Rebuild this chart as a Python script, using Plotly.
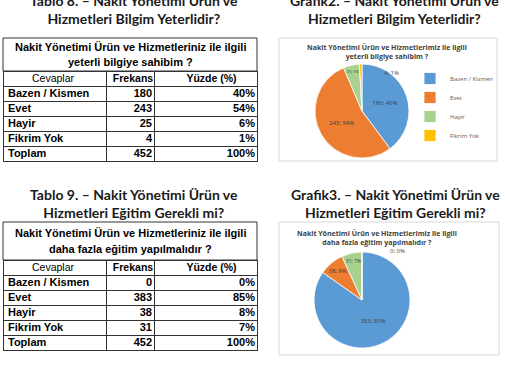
import plotly.graph_objects as go

W, H = 505, 369

# ---- data ----
cevaplar = ["Bazen / Kismen", "Evet", "Hayir", "Fikrim Yok", "Toplam"]
frekans8 = [180, 243, 25, 4, 452]
yuzde8 = ["40%", "54%", "6%", "1%", "100%"]
frekans9 = [0, 383, 38, 31, 452]
yuzde9 = ["0%", "85%", "8%", "7%", "100%"]

col_headers = ["Cevaplar", "Frekans", "Yüzde (%)"]
table8_title = ["Nakit Yönetimi Ürün ve Hizmetleriniz ile ilgili", "yeterli bilgiye sahibim ?"]
table9_title = ["Nakit Yönetimi Ürün ve Hizmetleriniz ile ilgili", "daha fazla eğitim yapılmalıdır ?"]

pie1_labels = ["Bazen / Kismen", "Evet", "Hayir", "Fikrim Yok"]
pie1_values = [180, 243, 25, 4]
pie1_pct = [40, 54, 5, 1]
pie2_labels = ["Evet", "Hayir", "Fikrim Yok", "Bazen / Kismen"]
pie2_values = [383, 38, 31, 0]
pie2_pct = [85, 8, 7, 0]

block_titles = [
    "Tablo 8. – Nakit Yönetimi Ürün ve<br>Hizmetleri Bilgim Yeterlidir?",
    "Grafik2. – Nakit Yönetimi Ürün ve<br>Hizmetleri Bilgim Yeterlidir?",
    "Tablo 9. – Nakit Yönetimi Ürün ve<br>Hizmetleri Eğitim Gerekli mi?",
    "Grafik3. – Nakit Yönetimi Ürün ve<br>Hizmetleri Eğitim Gerekli mi?",
]
chart1_title = "Nakit Yönetimi Ürün ve Hizmetlerimiz ile ilgili<br>yeterli bilgiye sahibim ?"
chart2_title = "Nakit Yönetimi Ürün ve Hizmetlerimiz ile ilgili<br>daha fazla eğitim yapılmalıdır ?"

slice_colors = ["#5B9BD5", "#ED7D31", "#A9D18E", "#FFC000"]

TFONT = "Liberation Sans, Arial, sans-serif"
HFONT = "Lato, sans-serif"
CFONT = "Open Sans, Lato, sans-serif"
LINE = "#333333"


def px(x0, x1):
    return [x0 / W, x1 / W]


def py(top, bottom):
    return [max(0, 1 - bottom / H), min(1, 1 - top / H)]


def lbl(v, p):
    return f"{v}; {p}%"


fig = go.Figure()


def ann(text, x, y, size, color, family, bold=True):
    fig.add_annotation(text=("<b>" + text + "</b>") if bold else text,
                       x=x / W, y=1 - y / H, xref="paper", yref="paper",
                       xanchor="center", yanchor="middle", showarrow=False,
                       align="center",
                       font=dict(family=family, size=size, color=color))


def add_table(title, freq, pct, top, body_top):
    # merged title cell
    fig.add_shape(type="rect", xref="paper", yref="paper",
                  x0=3 / W, x1=257 / W, y0=1 - body_top / H, y1=1 - top / H,
                  line=dict(color=LINE, width=1), fillcolor="white", layer="below")
    mid = (top + body_top) / 2
    ann(title[0], 130, mid - 7.5, 11, "black", TFONT)
    ann(title[1], 130, mid + 7.5, 11, "black", TFONT)
    n = len(cevaplar)
    # grid (cell borders)
    fig.add_trace(go.Table(
        domain=dict(x=px(3, 257), y=py(body_top, body_top + 100)),
        columnwidth=[103, 48, 103],
        header=dict(values=["", "", ""], height=15,
                    line=dict(color=LINE, width=1), fill=dict(color="white")),
        cells=dict(values=[[""] * n, [""] * n, [""] * n], height=15,
                   line=dict(color=LINE, width=1), fill=dict(color="white")),
        hoverinfo="skip",
    ))
    # text layer (shifted so the text sits centred in each 15px row)
    fig.add_trace(go.Table(
        domain=dict(x=px(0, 263), y=py(body_top - 5, body_top + 100)),
        columnwidth=[106, 54, 103],
        header=dict(values=col_headers, height=15, align="center",
                    line=dict(color="rgba(0,0,0,0)", width=0), fill=dict(color="rgba(0,0,0,0)"),
                    font=dict(family=TFONT, size=10.5, color="black",
                              weight=["normal", "bold", "bold"])),
        cells=dict(values=[cevaplar, [str(f) for f in freq], pct],
                   height=15, align=["left", "right", "right"],
                   line=dict(color="rgba(0,0,0,0)", width=0), fill=dict(color="rgba(0,0,0,0)"),
                   font=dict(family=TFONT, size=11, color="black", weight="bold")),
    ))


add_table(table8_title, frekans8, yuzde8, 38, 71)
add_table(table9_title, frekans9, yuzde9, 222, 260)

# pies (labels of the hair-thin slices are set beside the pie, as in the original)
pie1_text = [lbl(v, p) for v, p in zip(pie1_values, pie1_pct)]
pie2_text = [lbl(v, p) for v, p in zip(pie2_values, pie2_pct)]

fig.add_trace(go.Pie(
    labels=pie1_labels, values=pie1_values,
    text=pie1_text[:3] + [""],
    textinfo="text", textposition="inside",
    insidetextorientation="horizontal",
    textfont=dict(family=CFONT, size=6, color="#404040"),
    marker=dict(colors=slice_colors, line=dict(color="white", width=0.8)),
    sort=False, direction="clockwise", rotation=0,
    domain=dict(x=px(315, 409), y=py(64, 158)),
    legend="legend", showlegend=True,
))
fig.add_trace(go.Pie(
    labels=pie2_labels, values=pie2_values,
    text=pie2_text[:3] + [""],
    textinfo="text", textposition="inside",
    insidetextorientation="horizontal",
    textfont=dict(family=CFONT, size=6, color="#404040"),
    marker=dict(colors=slice_colors, line=dict(color="white", width=0.8)),
    sort=False, direction="clockwise", rotation=0,
    domain=dict(x=px(314, 410), y=py(252, 348)),
    legend="legend2", showlegend=True,
))
fig.add_annotation(text=pie1_text[3], x=401 / W, y=1 - 67 / H, xref="paper", yref="paper",
                   showarrow=False, font=dict(family=CFONT, size=6, color="#404040"))
fig.add_annotation(text=pie2_text[3], x=407 / W, y=1 - 257 / H, xref="paper", yref="paper",
                   showarrow=False, font=dict(family=CFONT, size=6, color="#404040"))

legend_style = dict(font=dict(family=CFONT, size=6, color="#595959"),
                    bgcolor="rgba(0,0,0,0)", xanchor="left", yanchor="top",
                    itemwidth=30, tracegroupgap=0)
fig.update_layout(
    legend=dict(x=410 / W, y=1 - 64 / H, **legend_style),
    legend2=dict(x=404 / W, y=1 - 253 / H, **legend_style),
)

# chart area borders
for (x0, y0, x1, y1) in [(279, 38, 497, 161), (279, 222, 499, 355)]:
    fig.add_shape(type="rect", xref="paper", yref="paper",
                  x0=x0 / W, x1=x1 / W, y0=1 - y1 / H, y1=1 - y0 / H,
                  line=dict(color="#D9D9D9", width=1), fillcolor="rgba(0,0,0,0)", layer="below")

# block titles (two lines each)
ann(block_titles[0], 134, 9.5, 14, "#1a1a1a", HFONT)
ann(block_titles[1], 394, 9.5, 14, "#1a1a1a", HFONT)
ann(block_titles[2], 134, 203.5, 14, "#1a1a1a", HFONT)
ann(block_titles[3], 395, 203.5, 14, "#1a1a1a", HFONT)

# chart titles
ann(chart1_title, 387, 52, 7, "#404040", CFONT)
ann(chart2_title, 377, 237.5, 7, "#404040", CFONT)

fig.update_layout(width=W, height=H,
                  margin=dict(l=0, r=0, t=0, b=0, pad=0, autoexpand=False),
                  paper_bgcolor="white", plot_bgcolor="white")

fig.write_html("out.html")
